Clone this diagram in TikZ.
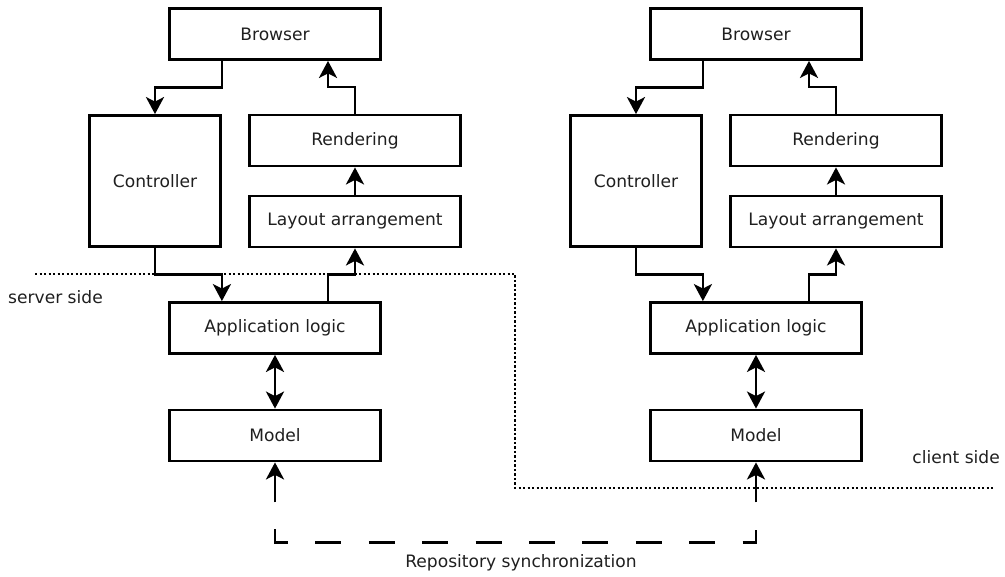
\documentclass[tikz,border=0pt]{standalone}
\usepackage{fontspec}
\setmainfont{DejaVu Sans}
\usetikzlibrary{arrows.meta,calc}

\tikzset{
  box/.style={draw, line width=2.8pt, inner sep=0pt, fill=white,
              font=\fontsize{17.1}{20}\selectfont, text=black!88},
  wide/.style={box, minimum width=211pt, minimum height=51pt},
  tall/.style={box, minimum width=131pt, minimum height=131pt},
  tip/.style={Stealth[length=17pt,width=18pt,inset=4.5pt]},
  flow/.style={line width=2.8pt, -{Stealth[length=17pt,width=18pt,inset=4.5pt]}},
  both/.style={line width=2.8pt, {Stealth[length=17pt,width=18pt,inset=4.5pt]}-{Stealth[length=17pt,width=18pt,inset=4.5pt]}},
  border/.style={line width=2.6pt, dash pattern=on 2.3pt off 2.2pt},
  sync/.style={line width=2.8pt, dash pattern=on 26pt off 27.4pt},
  lbl/.style={font=\fontsize{17.1}{20}\selectfont, text=black!88, inner sep=0pt}
}

\begin{document}
\begin{tikzpicture}[x=1pt, y=-1pt]
  \useasboundingbox (0,0) rectangle (1005,577);

  % one web stack per side: 0 = server, 481 = client
  \foreach \dx/\p in {0/L, 481/R} {
    \node[wide] (br\p)  at (275+\dx, 34)    {Browser};
    \node[tall] (ctl\p) at (155+\dx, 181)   {Controller};
    \node[wide] (ren\p) at (355+\dx, 140.5) {Rendering};
    \node[wide] (lay\p) at (355+\dx, 221.5) {Layout arrangement};
    \node[wide] (app\p) at (275+\dx, 328)   {Application logic};
    \node[wide] (mod\p) at (275+\dx, 435.5) {Model};

    % request path
    \draw[flow] (br\p.south -| ctl\p.east) -- ++(0,26.5) -| (ctl\p.north);
    \draw[flow] (ctl\p.south) -- ++(0,26.5) -| (app\p.north -| ctl\p.east);
    % response path
    \draw[flow] ($(app\p.north)+(53,0)$) -- ++(0,-26.5) -| (lay\p.south);
    \draw[flow] (lay\p.north) -- (ren\p.south);
    \draw[flow] (ren\p.north) -- ++(0,-26.5) -| ($(br\p.south)+(53,0)$);
    % data access
    \draw[both] (app\p.south) -- (mod\p.north);
    % repository feed
    \coordinate (feed\p) at ($(mod\p.south)+(0,40)$);
    \draw[flow] (feed\p) -- (mod\p.south);
  }

  % repository synchronization link
  \coordinate (sa) at ($(modL.south)+(0,67)$);
  \coordinate (sb) at ($(modL.south)+(0,80)$);
  \coordinate (sc) at ($(modR.south)+(0,80)$);
  \coordinate (sd) at ($(modR.south)+(0,67)$);
  \draw[sync] (sa) -- (sb) -- (sc) -- (sd);
  \node[lbl] (synclbl) at (521, 563) {Repository synchronization};

  % server / client boundary
  \draw[border] (35,274) -- (515,274) -- (515,488) -- (993,488);
  \node[lbl, anchor=west] (srv) at (8, 297) {server side};
  \node[lbl, anchor=east] (cli) at (1000, 457) {client side};
\end{tikzpicture}
\end{document}
